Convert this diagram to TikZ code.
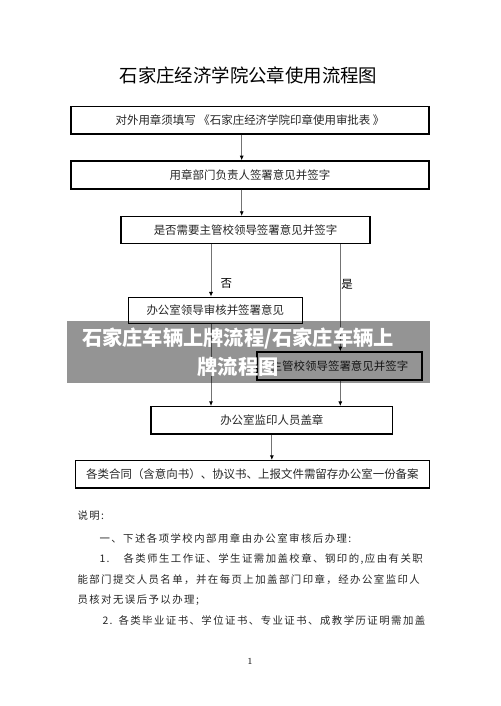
\documentclass[tikz,border=0pt]{standalone}
\usepackage{fontspec}
\newfontfamily\cjk{Noto Sans CJK SC}
\newfontfamily\cjknote[LetterSpace=14]{Noto Sans CJK SC}
\usetikzlibrary{arrows.meta}

\tikzset{every picture/.style={line width=0.75pt}}
\tikzset{
  flowbox/.style={draw=black, line width=1pt, inner sep=0pt, text=black!85,
    font=\cjk\fontsize{8.6pt}{10pt}\selectfont},
  link/.style={draw=black!55, line width=0.6pt, -{Latex[length=3.5pt,width=3pt,black]}},
  notetext/.style={anchor=west, inner sep=0pt, text=black!85,
    font=\cjknote\fontsize{7.8pt}{9pt}\selectfont},
}

\begin{document}
\begin{tikzpicture}[x=0.75pt,y=0.75pt,yscale=-1,xscale=1]
\useasboundingbox (0,0) rectangle (500,706);

% Title
\node (title) at (248.5,75) [inner sep=0pt, font=\cjk\fontsize{13.8pt}{16pt}\selectfont] {石家庄经济学院公章使用流程图};

%Shape: Rectangle
\node (b1) at (250,120.3) [flowbox, minimum width=268.5pt, minimum height=20.5pt] {对外用章须填写 《石家庄经济学院印章使用审批表 》};
%Shape: Rectangle
\node (b2) at (250,175) [flowbox, minimum width=268.5pt, minimum height=21pt] {用章部门负责人签署意见并签字};
%Shape: Rectangle
\node (b3) at (245.5,230) [flowbox, minimum width=186.75pt, minimum height=20pt] {是否需要主管校领导签署意见并签字};
%Shape: Rectangle
\node (b4) at (215.3,310.3) [flowbox, minimum width=130.5pt, minimum height=19.5pt] {办公室领导审核并签署意见};
%Shape: Rectangle
\node (b5) at (339.5,366) [flowbox, minimum width=123.75pt, minimum height=21pt] {主管校领导签署意见并签字};
%Shape: Rectangle
\node (b6) at (271.85,420.35) [flowbox, minimum width=181.3pt, minimum height=20.5pt] {办公室监印人员盖章};
%Shape: Rectangle
\node (b7) at (252.4,474.35) [flowbox, minimum width=265.4pt, minimum height=20.5pt] {各类合同（含意向书）、协议书、上报文件需留存办公室一份备案};

% connectors
\coordinate (ax) at (241.7,0);
\coordinate (lx) at (211,0);
\coordinate (rx) at (340.3,0);
\draw [link] (b1.south -| ax) -- (b2.north -| ax);
\draw [link] (b2.south -| ax) -- (b3.north -| ax);
\draw [link] (b3.south -| lx) -- node [pos=0.75, anchor=west, xshift=7pt, inner sep=0pt, font=\cjk\fontsize{8.6pt}{10pt}\selectfont] (no) {否} (b4.north -| lx);
\draw [link] (b3.south -| rx) -- node [pos=0.38, anchor=west, xshift=0.5pt, inner sep=0pt, font=\cjk\fontsize{8.6pt}{10pt}\selectfont] (yes) {是} (b5.north -| rx);
\draw [link] (b4.south -| lx) -- (b6.north -| lx);
\draw [link] (b5.south -| rx) -- (b6.north -| rx);
\draw [link] (b6.south) -- (b6.south |- b7.north);

% Text Node
\node (n1) at (77,516) [notetext] {说明:};
\node (n2) at (99,538) [notetext] {一、下述各项学校内部用章由办公室审核后办理:};
\node (n3a) at (99,559) [notetext] {1.};
\node (n3) at (123,559) [notetext] {各类师生工作证、学生证需加盖校章、钢印的,应由有关职};
\node (n4) at (77,580) [notetext] {能部门提交人员名单，并在每页上加盖部门印章，经办公室监印人};
\node (n5) at (77,600) [notetext] {员核对无误后予以办理;};
\node (n6a) at (102,621) [notetext] {2.};
\node (n6) at (118,621) [notetext] {各类毕业证书、学位证书、专业证书、成教学历证明需加盖};
\node (page) at (250,661) [inner sep=0pt, font=\fontsize{7pt}{8pt}\selectfont] {1};

%Shape: Rectangle (banner)
\fill [black, fill opacity=0.42] (67,321) rectangle (430,383);
\node (banner) at (238,352.5) [inner sep=0pt, text=white, align=center,
  font=\cjk\bfseries\fontsize{15.2pt}{21.75pt}\selectfont] {石家庄车辆上牌流程/石家庄车辆上\\牌流程图};

\end{tikzpicture}
\end{document}
